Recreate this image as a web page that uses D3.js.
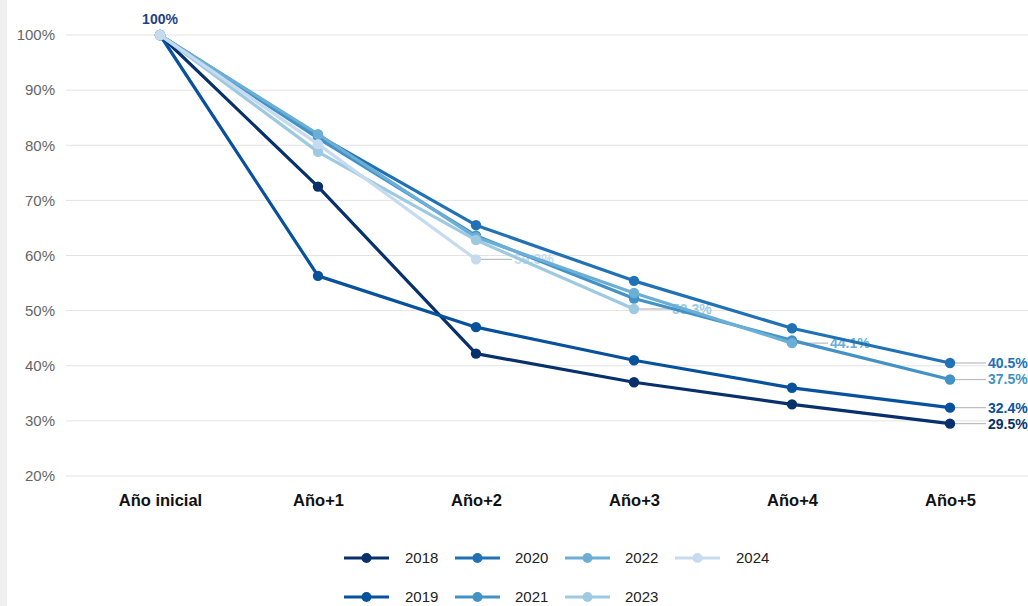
<!DOCTYPE html>
<html>
<head>
<meta charset="utf-8">
<script src="https://cdn.jsdelivr.net/npm/d3@7"></script>
<style>
body{margin:0;background:#fff;}
svg{display:block;font-family:"Liberation Sans",Arial,sans-serif;}
</style>
</head>
<body>
<svg id="chart" width="1028" height="606"></svg>
<script>
const categories = ["Año inicial","Año+1","Año+2","Año+3","Año+4","Año+5"];
const years = ["2018","2019","2020","2021","2022","2023","2024"];
const colors = ["#08306b","#08519c","#2171b5","#4292c6","#6baed6","#9ecae1","#c6dbef"];
const v2018 = [100,72.5,42.2,37.0,33.0,29.5];
const v2019 = [100,56.3,47.0,41.0,36.0,32.4];
const v2020 = [100,81.8,65.5,55.4,46.8,40.5];
const v2021 = [100,81.3,63.6,52.2,44.6,37.5];
const v2022 = [100,82.0,63.3,53.2,44.1];
const v2023 = [100,78.8,62.8,50.3];
const v2024 = [100,80.2,59.3];
const seriesValues = [v2018,v2019,v2020,v2021,v2022,v2023,v2024];
const yTicks = [20,30,40,50,60,70,80,90,100];

const svg = d3.select("#chart");
svg.append("rect").attr("x",0).attr("y",0).attr("width",7).attr("height",606).attr("fill","#f0f0f0");

const x = d3.scalePoint().domain(categories).range([160,950]);
const y = d3.scaleLinear().domain([20,100]).range([476,35]);

// gridlines
svg.append("g").selectAll("line").data(yTicks).join("line")
  .attr("x1",66).attr("x2",1028)
  .attr("y1",d=>y(d)).attr("y2",d=>y(d))
  .attr("stroke","#e3e3e3").attr("stroke-width",1);

// y axis labels
const yAxis = d3.axisLeft(y).tickValues(yTicks).tickFormat(d=>d+"%").tickSize(0).tickPadding(0);
const gy = svg.append("g").attr("transform","translate(55,0)").call(yAxis);
gy.select(".domain").remove();
gy.selectAll("text").attr("fill","#666").style("font-size","15px").style("font-family","'Liberation Sans',Arial,sans-serif");

// x axis labels
const xAxis = d3.axisBottom(x).tickSize(0).tickPadding(0);
const gx = svg.append("g").attr("transform","translate(0,494)").call(xAxis);
gx.select(".domain").remove();
gx.selectAll("text").attr("fill","#111").style("font-size","16.5px").style("font-weight","bold").style("font-family","'Liberation Sans',Arial,sans-serif");

// end labels (drawn below lines)
const lblG = svg.append("g");
seriesValues.forEach((vals,i)=>{
  const last = vals.length-1;
  if(last<2) return;
  const px = x(categories[last]), py = y(vals[last]);
  lblG.append("line").attr("x1",px+5).attr("x2",px+36).attr("y1",py).attr("y2",py)
    .attr("stroke","#bbb").attr("stroke-width",1.2);
  lblG.append("text").attr("x",px+38).attr("y",py).attr("dy","0.35em")
    .attr("fill",colors[i]).style("font-size","14px").style("font-weight","bold")
    .text(vals[last].toFixed(1)+"%");
});

// lines & points
const line = d3.line().x((d,j)=>x(categories[j])).y(d=>y(d));
seriesValues.forEach((vals,i)=>{
  const g = svg.append("g");
  g.append("path").datum(vals).attr("d",line).attr("fill","none")
    .attr("stroke",colors[i]).attr("stroke-width",3.2).attr("stroke-linejoin","round");
  g.selectAll("circle").data(vals).join("circle")
    .attr("cx",(d,j)=>x(categories[j])).attr("cy",d=>y(d)).attr("r",5.2).attr("fill",colors[i]);
});

// top label
svg.append("text").attr("x",x(categories[0])).attr("y",y(100)-11).attr("text-anchor","middle")
  .attr("fill","#1f3f86").style("font-size","14px").style("font-weight","bold").text("100%");

// legend
const legCols = [[344,405],[455,515],[565,625],[675,736]];
const legRows = [558,597];
years.forEach((yr,i)=>{
  const col = Math.floor(i/2), row = i%2;
  const lx = legCols[col][0], tx = legCols[col][1], ly = legRows[row];
  const g = svg.append("g");
  g.append("line").attr("x1",lx).attr("x2",lx+45).attr("y1",ly).attr("y2",ly)
    .attr("stroke",colors[i]).attr("stroke-width",3.2);
  g.append("circle").attr("cx",lx+22.5).attr("cy",ly).attr("r",5).attr("fill",colors[i]);
  g.append("text").attr("x",tx).attr("y",ly).attr("dy","0.35em").attr("fill","#222")
    .style("font-size","15px").text(yr);
});
</script>
</body>
</html>
